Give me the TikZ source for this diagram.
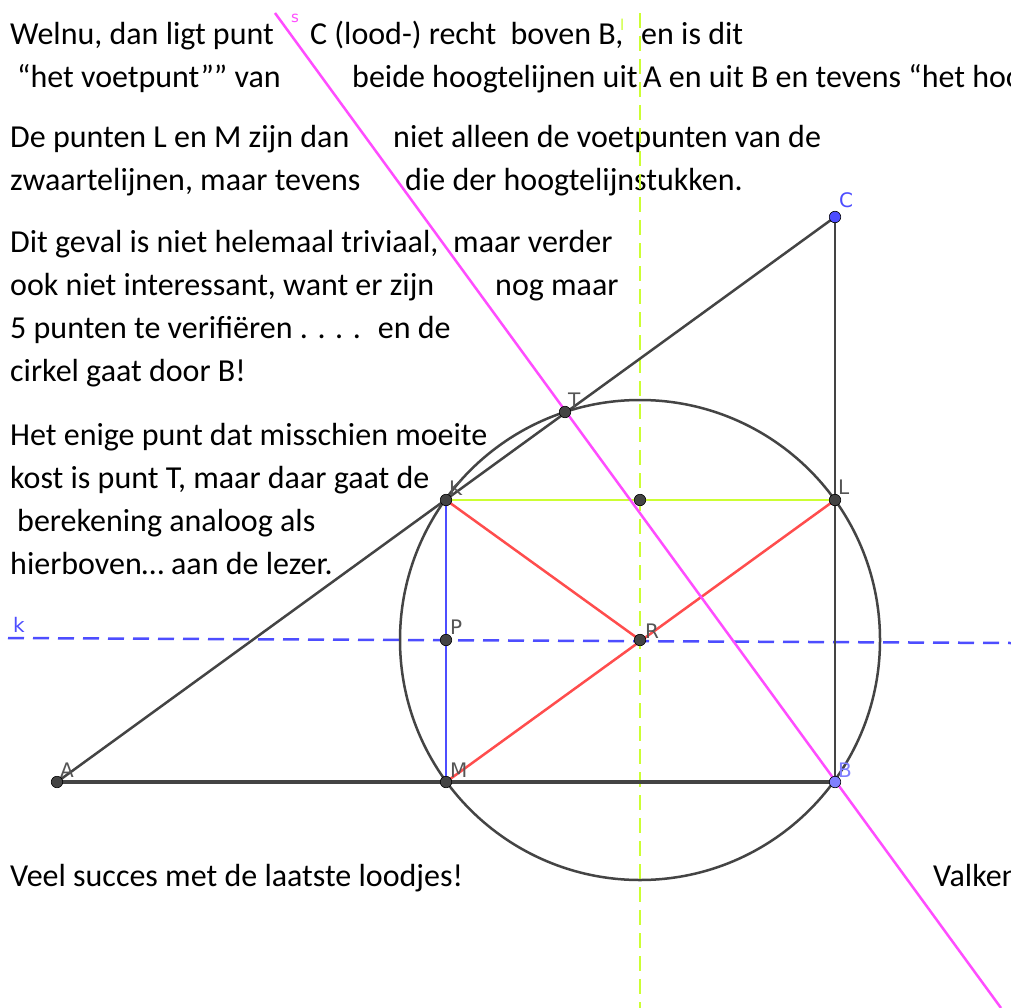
\documentclass[tikz,border=0pt]{standalone}
\usepackage{fontspec}
\setmainfont{Carlito}
\newfontfamily\lblfont{DejaVu Sans}
\definecolor{ggdark}{HTML}{444444}
\definecolor{ggred}{HTML}{FF4D4D}
\definecolor{ggblue}{HTML}{4D4DFF}
\definecolor{gglblue}{HTML}{8080FF}
\definecolor{ggyel}{HTML}{CCFF33}
\definecolor{ggmag}{HTML}{FF4DFF}
\definecolor{gglbl}{HTML}{555555}
\tikzset{
  txt/.style={anchor=base west,inner sep=0pt,font=\fontsize{32}{40}\selectfont},
  lbl/.style={anchor=base west,inner sep=0pt,font=\lblfont\fontsize{20}{24}\selectfont,text=gglbl},
  seg/.style={draw=ggdark,line width=2.5pt},
  dot/.style={circle,fill=ggdark,draw=black,line width=0.6pt,minimum size=11.5pt,inner sep=0pt},
}
\begin{document}
\begin{tikzpicture}[x=1pt,y=-1pt]
\useasboundingbox (0,0) rectangle (1011,1008);
\clip (0,0) rectangle (1011,1008);
\fill[white] (0,0) rectangle (1011,1008);
% points
\coordinate (A) at (57,782);
\coordinate (M) at (446,782);
\coordinate (B) at (835,782);
\coordinate (C) at (835,217);
\coordinate (K) at (446,500);
\coordinate (L) at (835,500);
\coordinate (P) at (446,640);
\coordinate (R) at (640,640);
\coordinate (T) at (565,412);
\coordinate (N) at (640,500);
\coordinate (s1) at (275,13);
\coordinate (s2) at (1001,1008);
\coordinate (l1) at (640,13);
\coordinate (l2) at (640,1008);
\coordinate (k1) at (8,638);
\coordinate (k2) at (1011,643);
% texts
\node[txt] (t1a) at (10,45) {Welnu, dan ligt punt};
\node[txt] (t1b) at (310,45) {C (lood-) recht \ boven B,};
\node[txt] (t1c) at (641,45) {en is dit};
\node[txt] (t2a) at (17,88) {“het voetpunt”” van};
\node[txt] (t2b) at (352,88) {beide hoogtelijnen uit};
\node[txt] (t2c) at (643,88) {A en uit B en tevens “het hoogtepunt”};
\node[txt] (t3a) at (10,148) {De punten L en M zijn dan};
\node[txt] (t3b) at (393,148) {niet alleen de voetpunten van de};
\node[txt] (t4a) at (10,191) {zwaartelijnen, maar tevens};
\node[txt] (t4b) at (405,191) {die der hoogtelijnstukken.};
\node[txt] (t5a) at (10,252) {Dit geval is niet helemaal triviaal,};
\node[txt] (t5b) at (453,252) {maar verder};
\node[txt] (t6a) at (10,295) {ook niet interessant, want er zijn};
\node[txt] (t6b) at (495,295) {nog maar};
\node[txt] (t7) at (10,338) {5 punten te verifiëren . . . . \ en de};
\node[txt] (t8) at (10,381) {cirkel gaat door B!};
\node[txt] (t9) at (10,445) {Het enige punt dat misschien moeite};
\node[txt] (t10) at (10,488) {kost is punt T, maar daar gaat de};
\node[txt] (t11) at (17,531) {berekening analoog als};
\node[txt] (t12) at (10,574) {hierboven… aan de lezer.};
\node[txt] (t13) at (10,886) {Veel succes met de laatste loodjes!};
\node[txt] (t14) at (933,886) {Valken};
% lines
\draw[ggyel,line width=2pt,dash pattern=on 15pt off 8pt] (l1) -- (l2);
\draw[ggblue,line width=2.5pt,dash pattern=on 16pt off 9pt] (k1) -- (k2);
\draw[ggdark,line width=2.5pt] (R) circle[radius=240pt];
\draw[seg] (A) -- (C);
\draw[seg] (C) -- (B);
\draw[ggdark,line width=3.5pt] (A) -- (B);
\draw[ggblue,line width=2.5pt] (K) -- (M);
\draw[ggyel,line width=2.5pt] (K) -- (L);
\draw[ggred,line width=2.5pt] (K) -- (R);
\draw[ggred,line width=2.5pt] (M) -- (L);
\draw[ggmag,line width=2.5pt] (s1) -- (s2);
% dots
\foreach \p in {A,M,K,L,P,R,T,N}{\node[dot] (d\p) at (\p) {};}
\node[dot,fill=ggblue] (dC) at (C) {};
\node[dot,fill=gglblue] (dB) at (B) {};
% labels
\node[lbl] (lA) at (60,777) {A};
\node[lbl] (lM) at (450,777) {M};
\node[lbl,text=gglblue] (lB) at (838,777) {B};
\node[lbl,text=ggblue] (lC) at (839,208) {C};
\node[lbl] (lT) at (568,407) {T};
\node[lbl] (lK) at (449,495) {K};
\node[lbl] (lL) at (838,494) {L};
\node[lbl] (lP) at (450,634) {P};
\node[lbl] (lR) at (645,638) {R};
\node[lbl,text=ggblue] (lk) at (13,632) {k};
\node[lbl,text=ggmag,font=\lblfont\fontsize{15}{18}\selectfont] (ls) at (291,23) {s};
\node[lbl,text=ggyel,font=\lblfont\fontsize{15}{18}\selectfont] (ll) at (620,31) {l};
\end{tikzpicture}
\end{document}
